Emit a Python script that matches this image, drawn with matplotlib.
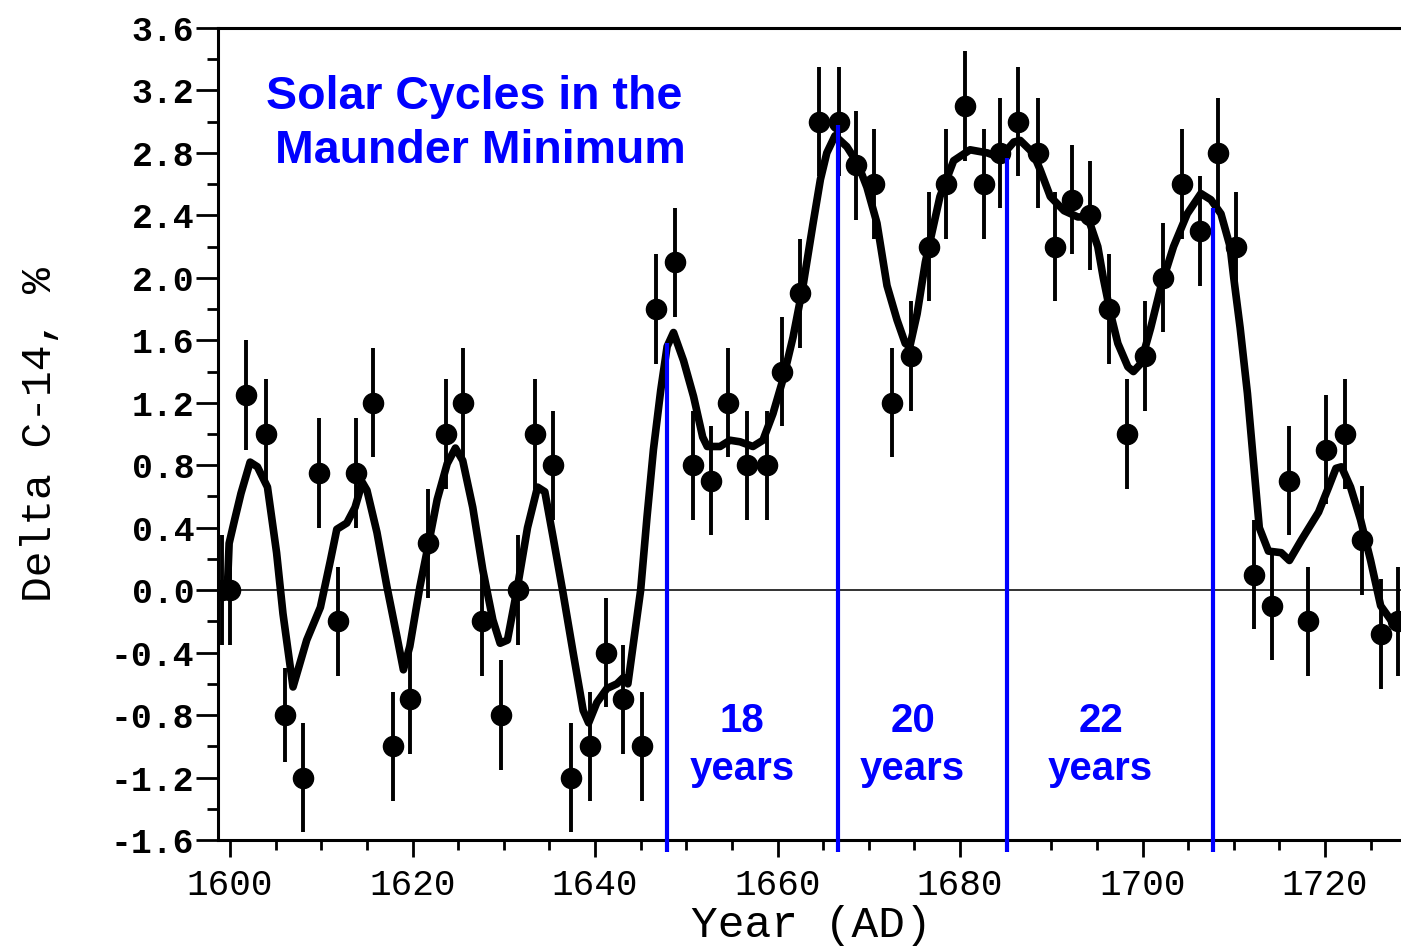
import matplotlib
matplotlib.use("Agg")
import matplotlib.pyplot as plt
from matplotlib.ticker import MultipleLocator, FormatStrFormatter

plt.rcParams["axes.unicode_minus"] = False

# ---------------- data ----------------
years = [1599.1, 1600.0, 1601.8, 1603.9, 1606.0, 1608.0, 1609.8, 1611.8, 1613.8, 1615.7,
         1617.9, 1619.7, 1621.7, 1623.7, 1625.5, 1627.6, 1629.7, 1631.6, 1633.4, 1635.4,
         1637.4, 1639.5, 1641.2, 1643.1, 1645.1, 1646.7, 1648.8, 1650.7, 1652.7, 1654.6,
         1656.7, 1658.8, 1660.5, 1662.5, 1664.5, 1666.7, 1668.6, 1670.6, 1672.6, 1674.6,
         1676.6, 1678.5, 1680.5, 1682.6, 1684.4, 1686.4, 1688.6, 1690.4, 1692.3, 1694.3,
         1696.3, 1698.3, 1700.3, 1702.2, 1704.3, 1706.3, 1708.3, 1710.3, 1712.2, 1714.2,
         1716.1, 1718.1, 1720.1, 1722.2, 1724.1, 1726.1, 1728.0]
delta_c14 = [0.0, 0.0, 1.25, 1.0, -0.8, -1.2, 0.75, -0.2, 0.75, 1.2,
             -1.0, -0.7, 0.3, 1.0, 1.2, -0.2, -0.8, 0.0, 1.0, 0.8,
             -1.2, -1.0, -0.4, -0.7, -1.0, 1.8, 2.1, 0.8, 0.7, 1.2,
             0.8, 0.8, 1.4, 1.9, 3.0, 3.0, 2.72, 2.6, 1.2, 1.5,
             2.2, 2.6, 3.1, 2.6, 2.8, 3.0, 2.8, 2.2, 2.5, 2.4,
             1.8, 1.0, 1.5, 2.0, 2.6, 2.3, 2.8, 2.2, 0.1, -0.1,
             0.7, -0.2, 0.9, 1.0, 0.32, -0.28, -0.2]
errors = [0.35, 0.35, 0.35, 0.35, 0.3, 0.35, 0.35, 0.35, 0.35, 0.35,
          0.35, 0.35, 0.35, 0.35, 0.35, 0.35, 0.35, 0.35, 0.35, 0.35,
          0.35, 0.35, 0.35, 0.35, 0.35, 0.35, 0.35, 0.35, 0.35, 0.35,
          0.35, 0.35, 0.35, 0.35, 0.35, 0.35, 0.35, 0.35, 0.35, 0.35,
          0.35, 0.35, 0.35, 0.35, 0.35, 0.35, 0.35, 0.35, 0.35, 0.35,
          0.35, 0.35, 0.35, 0.35, 0.35, 0.35, 0.35, 0.35, 0.35, 0.35,
          0.35, 0.35, 0.35, 0.35, 0.35, 0.35, 0.35]

curve_years = [1599.7, 1599.9, 1600.5, 1601.2, 1602.2, 1603.0, 1604.1, 1605.1, 1605.8, 1606.9,
               1608.4, 1609.9, 1611.0, 1611.7, 1612.8, 1613.7, 1614.5, 1615.0, 1616.1, 1617.2,
               1618.3, 1619.0, 1619.7, 1620.8, 1621.9, 1622.7, 1623.8, 1624.7, 1625.5, 1626.6,
               1627.7, 1628.8, 1629.6, 1630.4, 1631.5, 1632.6, 1633.7, 1634.5, 1635.4, 1636.5,
               1637.6, 1638.7, 1639.3, 1640.2, 1641.3, 1642.4, 1643.1, 1643.6, 1644.6, 1645.0,
               1645.7, 1646.4, 1647.2, 1647.9, 1648.6, 1649.7, 1650.8, 1651.8, 1652.3, 1653.7,
               1654.8, 1655.9, 1657.3, 1658.4, 1659.5, 1660.6, 1661.7, 1662.8, 1663.9, 1664.7,
               1665.4, 1666.3, 1667.6, 1668.8, 1669.8, 1670.9, 1672.0, 1673.1, 1674.0, 1674.5,
               1675.3, 1676.2, 1677.8, 1679.3, 1681.1, 1683.0, 1684.4, 1685.9, 1686.6, 1688.0,
               1688.8, 1689.9, 1691.4, 1692.9, 1694.0, 1695.1, 1695.7, 1696.5, 1697.3, 1698.4,
               1699.0, 1699.8, 1700.9, 1702.0, 1703.4, 1704.9, 1706.4, 1707.5, 1708.6, 1709.6,
               1710.0, 1710.7, 1711.5, 1712.2, 1712.8, 1713.8, 1715.2, 1716.1, 1717.4, 1719.3,
               1720.4, 1721.2, 1721.8, 1722.8, 1723.9, 1725.0, 1726.1, 1727.2, 1728.3]
curve_vals = [0.0, 0.3, 0.45, 0.62, 0.82, 0.79, 0.66, 0.24, -0.15, -0.62,
              -0.32, -0.11, 0.19, 0.39, 0.43, 0.53, 0.69, 0.64, 0.37, 0.02,
              -0.30, -0.51, -0.36, 0.02, 0.34, 0.58, 0.81, 0.91, 0.83, 0.53,
              0.13, -0.19, -0.34, -0.32, 0.02, 0.40, 0.66, 0.63, 0.34, -0.02,
              -0.40, -0.77, -0.85, -0.72, -0.63, -0.60, -0.56, -0.60, -0.17, 0.0,
              0.47, 0.90, 1.28, 1.56, 1.65, 1.47, 1.24, 0.98, 0.92, 0.92,
              0.96, 0.95, 0.92, 0.96, 1.13, 1.35, 1.62, 1.95, 2.35, 2.63,
              2.80, 2.91, 2.84, 2.73, 2.58, 2.35, 1.95, 1.73, 1.58, 1.56,
              1.77, 2.10, 2.52, 2.75, 2.82, 2.80, 2.77, 2.87, 2.88, 2.80,
              2.69, 2.52, 2.43, 2.39, 2.39, 2.20, 2.00, 1.77, 1.58, 1.43,
              1.40, 1.45, 1.68, 1.94, 2.20, 2.41, 2.54, 2.50, 2.41, 2.20,
              2.00, 1.68, 1.26, 0.80, 0.40, 0.25, 0.24, 0.19, 0.32, 0.50,
              0.66, 0.78, 0.79, 0.66, 0.45, 0.19, -0.10, -0.19, -0.17]

cycle_peak_years = [1647.9, 1666.6, 1685.2, 1707.7]
cycle_peak_vals = [1.58, 2.98, 2.77, 2.45]
cycle_label_years = [1656.1, 1674.8, 1695.4]
cycle_lengths = ["18", "20", "22"]
y_ticks = [-1.6, -1.2, -0.8, -0.4, 0.0, 0.4, 0.8, 1.2, 1.6, 2.0, 2.4, 2.8, 3.2, 3.6]
x_ticks = [1600, 1620, 1640, 1660, 1680, 1700, 1720]

# ---------------- figure ----------------
W, H = 1401, 950
fig = plt.figure(figsize=(W / 100, H / 100), dpi=100)
ax = fig.add_axes([218 / W, 1 - 840 / H, 1 - 218 / W, (840 - 28) / H])

ax.set_xlim(1598.68, 1728.33)
ax.set_ylim(-1.6, 3.6)

ax.axhline(0, color="#222222", lw=1.3, zorder=1)

ax.errorbar(years, delta_c14, yerr=errors, fmt="o", color="black", ms=14.5,
            mec="black", elinewidth=2.8, capsize=0, zorder=3)
ax.plot(curve_years, curve_vals, color="black", lw=5.5, solid_joinstyle="round",
        solid_capstyle="round", zorder=4)

blue = "#0000ff"
for yr, top in zip(cycle_peak_years, cycle_peak_vals):
    ax.plot([yr, yr], [-1.68, top], color=blue, lw=3.0, clip_on=False, zorder=5,
            solid_capstyle="butt")

for yr, n in zip(cycle_label_years, cycle_lengths):
    ax.text(yr, -0.908, n, color=blue, fontsize=29, fontweight="bold",
            family="Liberation Sans", ha="center", va="baseline")
    ax.text(yr, -1.216, "years", color=blue, fontsize=29, fontweight="bold",
            family="Liberation Sans", ha="center", va="baseline")

fig.text(474 / W, 1 - 109 / H, "Solar Cycles in the", color=blue, fontsize=33.5,
         fontweight="bold", family="Liberation Sans", ha="center", va="baseline")
fig.text(480 / W, 1 - 163 / H, "Maunder Minimum", color=blue, fontsize=33.5,
         fontweight="bold", family="Liberation Sans", ha="center", va="baseline")

# axes styling
for s in ["left", "bottom", "top"]:
    ax.spines[s].set_linewidth(2.2)
ax.spines["right"].set_visible(False)

ax.set_yticks(y_ticks)
ax.yaxis.set_major_formatter(FormatStrFormatter("%.1f"))
ax.yaxis.set_minor_locator(MultipleLocator(0.2))
ax.set_xticks(x_ticks)
ax.xaxis.set_minor_locator(MultipleLocator(5))

mono = "Liberation Mono"
ax.tick_params(axis="y", which="major", direction="out", length=16, width=2,
               pad=1, labelsize=25)
ax.tick_params(axis="y", which="minor", direction="out", length=8, width=2)
ax.tick_params(axis="x", which="major", direction="out", length=12, width=2,
               pad=8, labelsize=26)
ax.tick_params(axis="x", which="minor", direction="out", length=7, width=2)
for lab in ax.get_yticklabels():
    lab.set_family(mono)
    lab.set_fontweight("bold")
for lab in ax.get_xticklabels():
    lab.set_family(mono)

fig.text(811 / W, 1 - 925 / H, "Year (AD)", family=mono, fontsize=32,
         ha="center", va="center")
fig.text(40 / W, 1 - 435 / H, "Delta C-14, %", family=mono, fontsize=31,
         rotation=90, ha="center", va="center")

fig.savefig("out.png", dpi=100, facecolor="white")
